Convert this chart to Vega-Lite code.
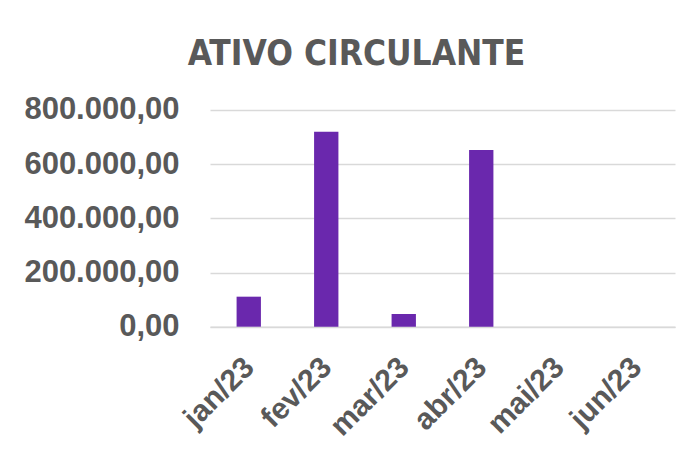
{
  "$schema": "https://vega.github.io/schema/vega-lite/v6.json",
  "autosize": "none",
  "width": 465,
  "height": 216.7,
  "padding": {"left": 210, "top": 110, "right": 20, "bottom": 131},
  "background": "white",
  "config": {
    "locale": {"number": {"decimal": ",", "thousands": ".", "grouping": [3], "currency": ["R$", ""]}},
    "view": {"stroke": null}
  },
  "title": {
    "text": "ATIVO CIRCULANTE",
    "font": "Liberation Sans Narrow, DejaVu Sans Condensed",
    "fontSize": 35,
    "fontWeight": "bold",
    "color": "#595959",
    "anchor": "middle",
    "frame": "group",
    "dx": -86,
    "baseline": "alphabetic",
    "offset": -6
  },
  "data": {
    "values": [
      {"mes": "jan/23", "valor": 110800},
      {"mes": "fev/23", "valor": 720000},
      {"mes": "mar/23", "valor": 47000},
      {"mes": "abr/23", "valor": 652000},
      {"mes": "mai/23", "valor": 0},
      {"mes": "jun/23", "valor": 0}
    ]
  },
  "mark": {"type": "bar", "color": "#6a28ad"},
  "encoding": {
    "x": {
      "field": "mes",
      "type": "nominal",
      "sort": null,
      "scale": {"paddingInner": 0.686, "paddingOuter": 0.343},
      "axis": {
        "title": null,
        "labelAngle": -45,
        "labelFont": "Liberation Sans",
        "labelFontSize": 30,
        "labelFontWeight": "bold",
        "labelColor": "#595959",
        "labelPadding": 25,
        "labelOffset": -10,
        "ticks": false,
        "domainColor": "#d9d9d9",
        "domainWidth": 1.5
      }
    },
    "y": {
      "field": "valor",
      "type": "quantitative",
      "scale": {"domain": [0, 800000], "nice": false},
      "axis": {
        "title": null,
        "values": [0, 200000, 400000, 600000, 800000],
        "format": ",.2f",
        "labelFont": "Liberation Sans",
        "labelFontSize": 31,
        "labelFontWeight": "bold",
        "labelColor": "#595959",
        "labelPadding": 31,
        "ticks": false,
        "domain": false,
        "gridColor": "#d9d9d9",
        "gridWidth": 1.5
      }
    }
  }
}
